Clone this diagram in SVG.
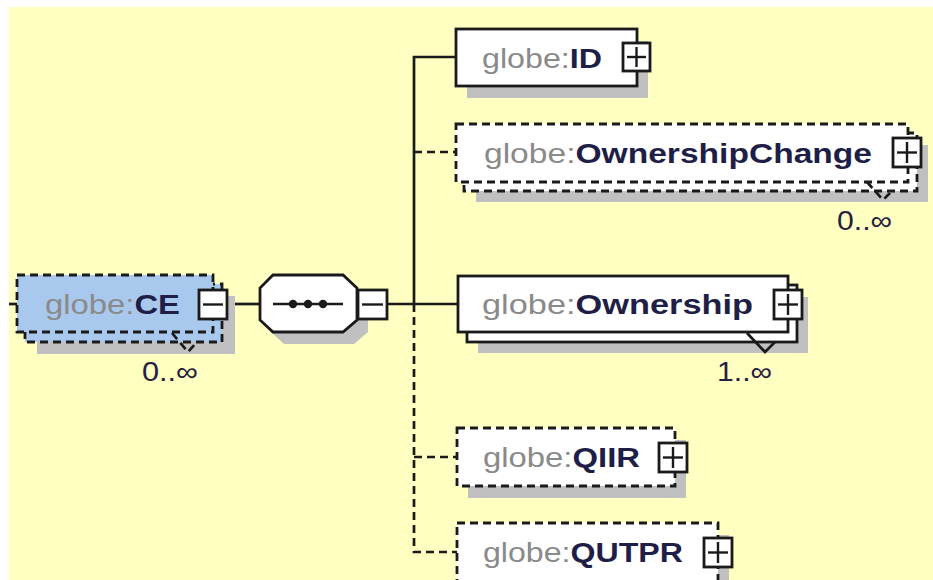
<svg xmlns="http://www.w3.org/2000/svg" width="933" height="580" viewBox="0 0 933 580">
<defs>
<style>
.bg{fill:#FFFFC2}
.sh{fill:#C0C0C0}
.box{fill:#FFFFFF;stroke:#1A1A1A;stroke-width:2.8}
.opt{stroke-dasharray:8 5}
.sel{fill:#A8C8EE}
.btn{fill:#FFFFFF;stroke:#1A1A1A;stroke-width:2.8}
.sign{stroke:#1A1A1A;stroke-width:2.4;fill:none}
.ln{stroke:#1A1A1A;stroke-width:2.7;fill:none}
.lbl{font-family:"Liberation Sans",Arial,sans-serif;font-size:27px}
.pfx{fill:#8A8A8A;font-weight:normal}
.nm{fill:#1E1E46;font-weight:bold}
.card{font-family:"Liberation Sans",Arial,sans-serif;font-size:27px;fill:#262040}
</style>
</defs>
<rect x="0" y="0" width="933" height="580" fill="#FFFFFF"/>
<rect class="bg" x="9" y="7" width="924" height="573"/>

<g id="connectors">
<line class="ln" x1="9" y1="304" x2="17" y2="304"/>
<line class="ln" x1="228" y1="304" x2="260" y2="304"/>
<line class="ln" x1="387" y1="304" x2="458" y2="304"/>
<polyline class="ln" points="456,57 414,57 414,304"/>
<polyline class="ln opt" points="414,304 414,552 457,552"/>
<line class="ln opt" x1="414" y1="152" x2="456" y2="152"/>
<line class="ln opt" x1="414" y1="457" x2="457" y2="457"/>
</g>

<g id="node-CE">
<rect class="sh" x="37" y="296" width="198" height="58"/>
<rect class="box sel opt" x="25" y="284" width="197" height="58"/>
<rect class="box sel opt" x="17" y="275" width="196" height="57"/>
<text class="lbl" x="45" y="314" textLength="135" lengthAdjust="spacingAndGlyphs"><tspan class="pfx">globe:</tspan><tspan class="nm">CE</tspan></text>
<rect class="btn" x="199" y="290" width="28" height="29"/>
<line class="sign" x1="203" y1="304.5" x2="223" y2="304.5"/>
<polyline class="ln opt" points="172,333 188,352 197,342"/>
<text class="card" x="142" y="381" textLength="56" lengthAdjust="spacingAndGlyphs">0..∞</text>
</g>

<g id="node-sequence">
<polygon class="sh" points="284,287 354,287 368,300 368,332 354,344 284,344 271,332 271,300"/>
<polygon class="box" points="273,275 343,275 357,288 357,320 343,332 273,332 260,320 260,288"/>
<line class="ln" x1="273" y1="304" x2="343" y2="304"/>
<circle cx="293" cy="304" r="4.2" fill="#1A1A1A"/>
<circle cx="308" cy="304" r="4.2" fill="#1A1A1A"/>
<circle cx="323" cy="304" r="4.2" fill="#1A1A1A"/>
<rect class="btn" x="358" y="290" width="29" height="29"/>
<line class="sign" x1="362" y1="304.5" x2="383" y2="304.5"/>
</g>

<g id="node-ID">
<rect class="sh" x="467" y="41" width="181" height="57"/>
<rect class="box" x="456" y="29" width="181" height="57"/>
<text class="lbl" x="482" y="68" textLength="120" lengthAdjust="spacingAndGlyphs"><tspan class="pfx">globe:</tspan><tspan class="nm">ID</tspan></text>
<rect class="btn" x="623" y="43" width="27" height="28"/>
<line class="sign" x1="627" y1="57" x2="646" y2="57"/>
<line class="sign" x1="636.5" y1="47" x2="636.5" y2="67"/>
</g>

<g id="node-OwnershipChange">
<rect class="sh" x="476" y="145" width="452" height="57"/>
<rect class="box opt" x="464" y="133" width="453" height="58"/>
<rect class="box opt" x="456" y="124" width="452" height="58"/>
<text class="lbl" x="484" y="163" textLength="388" lengthAdjust="spacingAndGlyphs"><tspan class="pfx">globe:</tspan><tspan class="nm">OwnershipChange</tspan></text>
<rect class="btn" x="893" y="138" width="28" height="29"/>
<line class="sign" x1="897" y1="152.5" x2="917" y2="152.5"/>
<line class="sign" x1="907" y1="142" x2="907" y2="163"/>
<polyline class="ln opt" points="867,182 883,200 892,191"/>
<text class="card" x="837" y="230" textLength="55" lengthAdjust="spacingAndGlyphs">0..∞</text>
</g>

<g id="node-Ownership">
<rect class="sh" x="478" y="297" width="330" height="56"/>
<rect class="box" x="467" y="285" width="330" height="57"/>
<rect class="box" x="458" y="276" width="330" height="56"/>
<text class="lbl" x="482" y="314" textLength="271" lengthAdjust="spacingAndGlyphs"><tspan class="pfx">globe:</tspan><tspan class="nm">Ownership</tspan></text>
<rect class="btn" x="774" y="290" width="28" height="29"/>
<line class="sign" x1="778" y1="304.5" x2="798" y2="304.5"/>
<line class="sign" x1="788" y1="294" x2="788" y2="315"/>
<polyline class="ln" points="747,333 765,352 775,342"/>
<text class="card" x="717" y="381" textLength="55" lengthAdjust="spacingAndGlyphs">1..∞</text>
</g>

<g id="node-QIIR">
<rect class="sh" x="468" y="440" width="218" height="58"/>
<rect class="box opt" x="457" y="428" width="218" height="58"/>
<text class="lbl" x="483" y="467" textLength="157" lengthAdjust="spacingAndGlyphs"><tspan class="pfx">globe:</tspan><tspan class="nm">QIIR</tspan></text>
<rect class="btn" x="659" y="443" width="28" height="29"/>
<line class="sign" x1="663" y1="457.5" x2="683" y2="457.5"/>
<line class="sign" x1="673" y1="447" x2="673" y2="468"/>
</g>

<g id="node-QUTPR">
<rect class="sh" x="468" y="535" width="261" height="70"/>
<rect class="box opt" x="457" y="523" width="261" height="70"/>
<text class="lbl" x="483" y="562" textLength="200" lengthAdjust="spacingAndGlyphs"><tspan class="pfx">globe:</tspan><tspan class="nm">QUTPR</tspan></text>
<rect class="btn" x="704" y="538" width="28" height="29"/>
<line class="sign" x1="708" y1="552.5" x2="728" y2="552.5"/>
<line class="sign" x1="718" y1="542" x2="718" y2="563"/>
</g>
</svg>
